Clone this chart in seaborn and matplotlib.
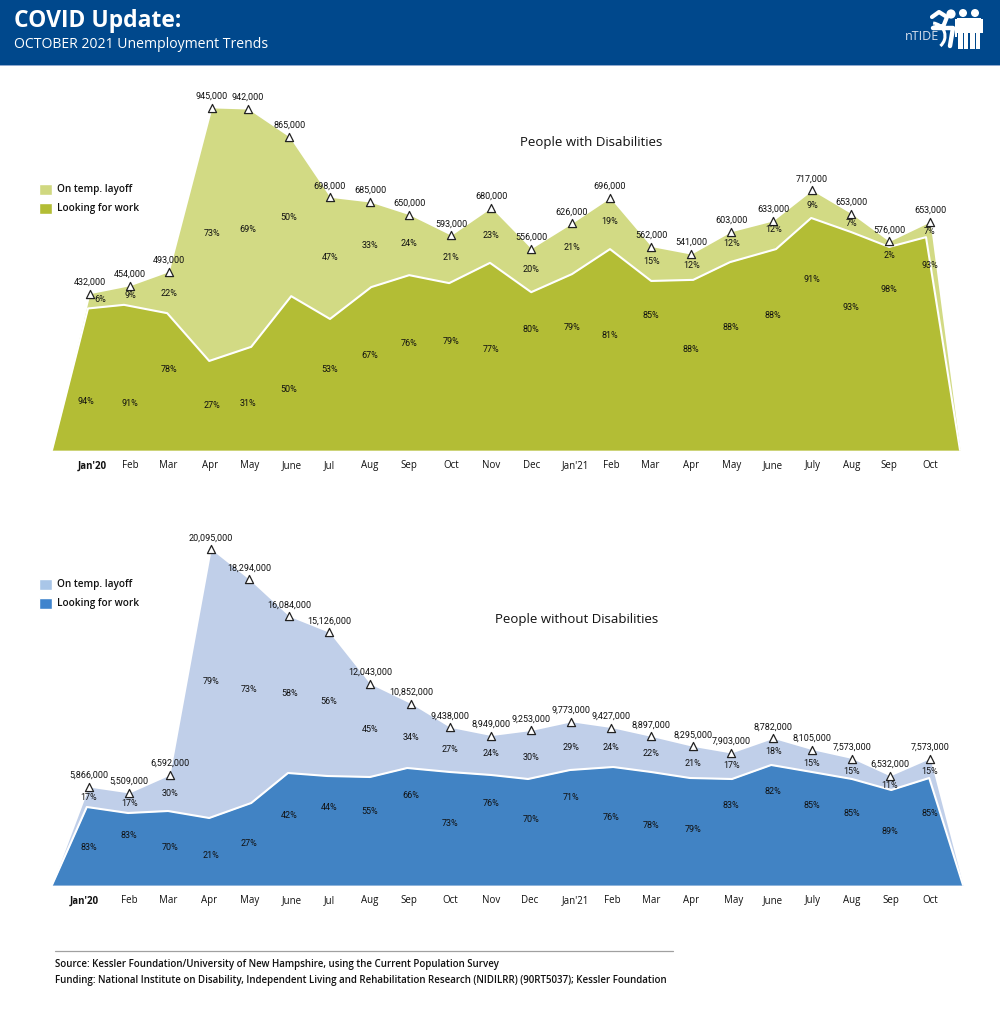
import matplotlib
matplotlib.use("Agg")
import matplotlib.pyplot as plt
from matplotlib.patches import Rectangle, Circle, Arc, Patch
import seaborn as sns
import pandas as pd

months = ["Jan'20", "Feb", "Mar", "Apr", "May", "June", "Jul", "Aug", "Sep", "Oct", "Nov", "Dec",
          "Jan'21", "Feb", "Mar", "Apr", "May", "June", "July", "Aug", "Sep", "Oct"]
pwd_tick_x = [0.05, 1, 1.95, 3, 3.98, 5.05, 5.98, 6.98, 7.98, 9.03, 10.03, 11.03,
              12.13, 13.03, 14, 15.03, 16.03, 17.08, 18.08, 19.05, 19.98, 21]
pwod_tick_x = [-0.15, 0.98, 1.95, 2.98, 3.98, 5.05, 5.98, 7, 7.98, 9, 10.03, 11,
               12.13, 13.05, 14.03, 15.03, 16.08, 17.08, 18.08, 19.05, 20.03, 21]

# People with disabilities (thousands)
pwd_labels = [432, 454, 493, 945, 942, 865, 698, 685, 650, 593, 680, 556,
              626, 696, 562, 541, 603, 633, 717, 653, 576, 653]
pwd_total = [432, 454, 493, 945, 942, 865, 698, 685, 650, 593, 669, 556,
             626, 696, 562, 541, 603, 633, 717, 653, 576, 630]
pwd_work = [391, 401, 378, 246, 285, 425, 362, 450, 483, 461, 517, 436,
            486, 555, 467, 470, 519, 555, 641, 602, 561, 588]
pwd_layoff_pct = [6, 9, 22, 73, 69, 50, 47, 33, 24, 21, 23, 20, 21, 19, 15, 12, 12, 12, 9, 7, 2, 7]
pwd_work_pct = [94, 91, 78, 27, 31, 50, 53, 67, 76, 79, 77, 80, 79, 81, 85, 88, 88, 88, 91, 93, 98, 93]
pwd_total_x = [0, 1, 1.98, 3.05, 3.95, 4.98, 6, 7, 7.98, 9.03, 10.03, 11.03,
               12.05, 13, 14.03, 15.03, 16.03, 17.08, 18.05, 19.03, 19.98, 21]
pwd_work_x = [-0.05, 0.85, 1.93, 2.98, 4.03, 5.03, 6, 7.03, 7.98, 8.98, 10, 11.03,
              12.05, 13, 14.03, 15.08, 16, 17.15, 18.03, 19.03, 19.98, 20.9]

# People without disabilities (thousands)
pwod_labels = [5866, 5509, 6592, 20095, 18294, 16084, 15126, 12043, 10852, 9438, 8949, 9253,
               9773, 9427, 8897, 8295, 7903, 8782, 8105, 7573, 6532, 7573]
pwod_total = pwod_labels
pwod_work = [4671, 4311, 4431, 4012, 4910, 6707, 6527, 6467, 7006, 6766, 6587, 6347,
             6886, 7066, 6766, 6407, 6347, 7186, 6766, 6347, 5689, 6407]
pwod_layoff_pct = [17, 17, 30, 79, 73, 58, 56, 45, 34, 27, 24, 30, 29, 24, 22, 21, 17, 18, 15, 15, 11, 15]
pwod_work_pct = [83, 83, 70, 21, 27, 42, 44, 55, 66, 73, 76, 70, 71, 76, 78, 79, 83, 82, 85, 85, 89, 85]
pwod_total_x = [-0.03, 0.98, 2, 3.03, 3.98, 4.98, 5.98, 7, 8.03, 9, 10.03, 11.03,
                12.03, 13.03, 14.03, 15.08, 16.03, 17.08, 18.05, 19.05, 20, 21]
pwod_work_x = [-0.08, 0.95, 1.95, 2.98, 4.03, 4.95, 5.93, 7, 7.93, 9, 10.03, 10.95,
               12, 13.08, 14.03, 15, 16.05, 17.03, 18.05, 19.05, 20.03, 20.98]

# Placement of the percentage texts: pixels above the baseline
pwd_layoff_lift = [151, 154, 156, 217, 220, 233, 193, 205, 206, 192, 215, 181,
                   202, 228, 188, 184, 206, 220, 245, 226, 195, 219]
pwd_work_lift = [48, 46, 80, 44, 47, 60, 81, 94, 107, 108, 101, 120,
                 123, 115, 134, 100, 122, 135, 170, 142, 161, 184]
pwod_layoff_lift = [87, 81, 92, 203, 195, 192, 183, 155, 147, 135, 131, 128,
                    137, 137, 132, 122, 119, 134, 122, 114, 99, 114]
pwod_work_lift = [38, 49, 37, 29, 41, 70, 77, 74, 89, 61, 82, 66,
                  88, 68, 60, 56, 80, 93, 80, 72, 54, 72]

W, H = 1000, 1036
sns.set_style("white")
plt.rcParams["font.family"] = ["Open Sans", "DejaVu Sans"]
INK = "#111111"
NUM_FONT = ["Roboto", "DejaVu Sans"]

fig = plt.figure(figsize=(W / 100, H / 100), dpi=100, facecolor="white")


def panel(left, right, base, top, xlim, ylim, tick_x):
    ax = fig.add_axes([left / W, 1 - base / H, (right - left) / W, (base - top) / H])
    ax.set_xlim(*xlim)
    ax.set_ylim(*ylim)
    ax.patch.set_alpha(0)
    sns.despine(ax=ax, left=True, bottom=True)
    ax.set_yticks([])
    ax.set_xticks(tick_x)
    ax.set_xticklabels(months, fontsize=7, color=INK, va="baseline")
    ax.get_xticklabels()[0].set_fontweight("bold")
    ax.tick_params(axis="x", length=0, pad=13.3)
    return ax


def draw(ax, total_x, total, work_x, work, labels, lay_pct, work_pct, lay_lift, work_lift,
         light, dark, title, title_xy, nudges):
    x0, x1 = ax.get_xlim()
    ox = [x0] + total_x + [x1]
    oy = [0] + total + [0]
    wx = [x0] + work_x + [x1]
    wy = [0] + work + [0]
    ax.fill_between(ox, oy, 0, color=light, lw=0, zorder=1)
    ax.fill_between(wx, wy, 0, color=dark, lw=0, zorder=2)
    sns.lineplot(data=pd.DataFrame({"x": wx, "y": wy}), x="x", y="y", sort=False, estimator=None,
                 color="white", lw=1.5, ax=ax, zorder=3, clip_on=False)
    sns.scatterplot(data=pd.DataFrame({"x": total_x, "y": total}), x="x", y="y", marker="^", s=34,
                    facecolor="white", edgecolor="#222222", linewidth=0.9, ax=ax, zorder=4, clip_on=False)
    ax.set_xlabel("")
    ax.set_ylabel("")
    opts = dict(textcoords="offset pixels", ha="center", va="center", fontsize=6.5, family=NUM_FONT,
                color=INK, zorder=5, annotation_clip=False)
    for i, (x, y, v) in enumerate(zip(total_x, total, labels)):
        ax.annotate(f"{v * 1000:,}", (x, y), xytext=(0, 11.5), **opts)
        ax.annotate(f"{lay_pct[i]}%", (x, 0), xytext=(nudges[0] if i == 0 else 0, lay_lift[i]), **opts)
        ax.annotate(f"{work_pct[i]}%", (x, 0), xytext=(nudges[1] if i == 0 else 0, work_lift[i]), **opts)
    fig.text(title_xy[0] / W, 1 - title_xy[1] / H, title, ha="center", va="center", fontsize=9.5, color=INK)


ax1 = panel(52, 960, 450, 100, (-0.95, 21.75), (0, 966.9), pwd_tick_x)
draw(ax1, pwd_total_x, pwd_total, pwd_work_x, pwd_work, pwd_labels, pwd_layoff_pct, pwd_work_pct,
     pwd_layoff_lift, pwd_work_lift, "#d2da84", "#b3bd35", "People with Disabilities", (591, 142), (10, -4))

ax2 = panel(52, 963, 885, 520, (-0.95, 21.825), (0, 21856), pwod_tick_x)
draw(ax2, pwod_total_x, pwod_total, pwod_work_x, pwod_work, pwod_labels, pwod_layoff_pct, pwod_work_pct,
     pwod_layoff_lift, pwod_work_lift, "#c0cfe9", "#4183c4", "People without Disabilities", (577, 619), (0, 0))


def legend(y_center, light, dark):
    handles = [Patch(facecolor=light, label="On temp. layoff"), Patch(facecolor=dark, label="Looking for work")]
    leg = fig.legend(handles=handles, loc="center left", bbox_to_anchor=(39 / W, 1 - y_center / H),
                     frameon=False, prop={"size": 7.2, "weight": 600}, handlelength=1.3, handleheight=1.3,
                     handletextpad=0.5, labelspacing=0.72, borderpad=0, borderaxespad=0)
    for t in leg.get_texts():
        t.set_color(INK)


# Decoration layer in pixel coordinates
deco = fig.add_axes([0, 0, 1, 1], zorder=-1)
deco.set_xlim(0, W)
deco.set_ylim(H, 0)
deco.axis("off")
deco.add_patch(Rectangle((0, 0), W, 65, fc="#00488c", ec="none"))
deco.add_patch(Rectangle((0, 65), W, 1.2, fc="#8fa9cf", ec="none"))
deco.text(14, 21, "COVID Update:", color="white", fontsize=16.5, fontweight="bold", va="center", ha="left")
deco.text(14, 44, "OCTOBER 2021 Unemployment Trends", color="white", fontsize=10.1, va="center", ha="left")

# Logo
deco.text(921.5, 37, "nTIDE", color="#d7e0ee", fontsize=9, va="center", ha="center")
deco.add_patch(Arc((932, 36), 26, 26, theta1=-85, theta2=50, color="white", lw=2.2))
deco.add_patch(Circle((951, 14), 4.6, fc="white", ec="none"))
deco.plot([932, 939, 947, 943], [17, 12, 17, 27], color="white", lw=3, solid_capstyle="round")
deco.plot([943, 933, 953, 950], [26, 28, 28, 46], color="white", lw=3.2, solid_capstyle="round")
for cx in (963, 975):
    deco.add_patch(Circle((cx, 13), 4, fc="white", ec="none"))
    deco.add_patch(Rectangle((cx - 6, 18), 12, 15, fc="white", ec="none"))
    deco.add_patch(Rectangle((cx - 5, 33), 4.6, 16, fc="white", ec="none"))
    deco.add_patch(Rectangle((cx + 0.6, 33), 4.6, 16, fc="white", ec="none"))
deco.add_patch(Rectangle((954.5, 19), 2.6, 18, fc="white", ec="none"))
deco.add_patch(Rectangle((981, 19), 2.4, 14, fc="white", ec="none"))

# Footer
deco.plot([55, 673], [951, 951], color="#a0a0a0", lw=0.9)
deco.text(55, 964, "Source: Kessler Foundation/University of New Hampshire, using the Current Population Survey",
          fontsize=7, fontweight=600, color=INK, va="center", ha="left")
deco.text(55, 981, "Funding: National Institute on Disability, Independent Living and Rehabilitation Research (NIDILRR) (90RT5037); Kessler Foundation",
          fontsize=7, fontweight=600, color=INK, va="center", ha="left")

legend(199, "#d0d880", "#b3bd35")
legend(594, "#a9c6e8", "#3f84cd")

fig.savefig("out.png", dpi=100, facecolor="white")
